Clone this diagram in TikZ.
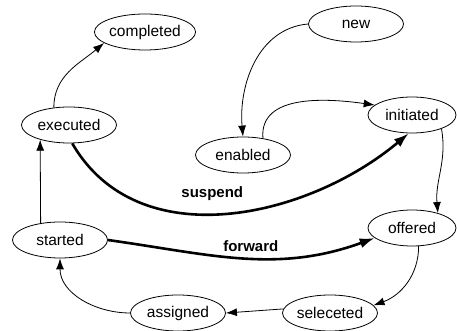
\documentclass[tikz,border=0pt]{standalone}
\usepackage{fontspec}
\setmainfont{Liberation Sans}
\usetikzlibrary{shapes.geometric,arrows.meta}
\begin{document}
\begin{tikzpicture}[x=1pt,y=1pt,
  state/.style={ellipse,draw,line width=0.8pt,inner sep=0pt,minimum width=95pt,minimum height=36pt,font=\fontsize{15.5}{18}\selectfont},
  thin/.style={line width=0.8pt,-{Latex[length=11pt,width=8pt]}},
  thick/.style={line width=2.6pt,-{Latex[length=15pt,width=10pt]}},
  lbl/.style={font=\fontsize{15}{18}\selectfont\bfseries}]
\useasboundingbox (0,0) rectangle (457,331);
\node[state] (completed) at (145,299) {completed};
\node[state] (new) at (356,307) {new};
\node[state,minimum width=88pt] (initiated) at (412,216) {initiated};
\node[state] (enabled) at (243,176) {enabled};
\node[state] (executed) at (69,206) {executed};
\node[state] (started) at (60,91) {started};
\node[state,minimum width=88pt] (offered) at (412,103) {offered};
\node[state] (assigned) at (178,18) {assigned};
\node[state] (seleceted) at (330,18) {seleceted};

\draw[thin] (new.west) to[out=185,in=95] (enabled.north);
\draw[thin] (enabled.40) to[out=95,in=172] (initiated.165);
\draw[thin] (initiated.-25) to[out=-80,in=95] (offered.30);
\draw[thin] (offered.-70) to[out=-90,in=20] (seleceted.10);
\draw[thin] (seleceted.175) -- (assigned.east);
\draw[thin] (assigned.west) to[out=180,in=-90] (started.south);
\draw[thin] (started.139) -- (executed.207.5);
\draw[thin] (executed.131) to[out=90,in=220] (completed.195);
\draw[thick] (executed.-80) to[out=-60,in=-140] node[lbl,pos=0.46,above=9pt]{suspend} (initiated.-100);
\draw[thick] (started.east) to[out=-8,in=200] node[lbl,pos=0.53,above=2pt]{forward} (offered.195);
\end{tikzpicture}
\end{document}
